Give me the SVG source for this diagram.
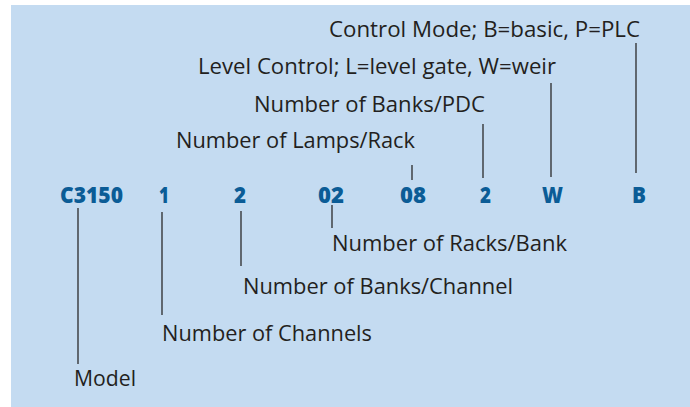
<svg xmlns="http://www.w3.org/2000/svg" width="690" height="407" viewBox="0 0 690 407">
<style>
.bg{fill:#c4dbf1}
.lbl{font-family:"Open Sans","Liberation Sans",sans-serif;font-size:21px;fill:#231f20}
.code{font-family:"Open Sans","Liberation Sans",sans-serif;font-size:22.5px;font-weight:800;fill:#0b5c96}
.ln{stroke:#2a2a2a;stroke-width:1.3;fill:none}
</style>
<rect class="bg" x="11" y="5" width="679" height="402"/>
<g id="codes">
<text class="code" x="60" y="203" textLength="63" lengthAdjust="spacingAndGlyphs">C3150</text>
<text class="code" x="159" y="203" textLength="10" lengthAdjust="spacingAndGlyphs">1</text>
<text class="code" x="234" y="203" textLength="12" lengthAdjust="spacingAndGlyphs">2</text>
<text class="code" x="318" y="203" textLength="26" lengthAdjust="spacingAndGlyphs">02</text>
<text class="code" x="400" y="203" textLength="26" lengthAdjust="spacingAndGlyphs">08</text>
<text class="code" x="480" y="203" textLength="11" lengthAdjust="spacingAndGlyphs">2</text>
<text class="code" x="542" y="203" textLength="21" lengthAdjust="spacingAndGlyphs">W</text>
<text class="code" x="632" y="203" textLength="14" lengthAdjust="spacingAndGlyphs">B</text>
</g>
<g id="connectors">
<line class="ln" x1="78" y1="208" x2="78" y2="364"/>
<line class="ln" x1="162" y1="212" x2="162" y2="315"/>
<line class="ln" x1="241" y1="211" x2="241" y2="266"/>
<line class="ln" x1="332" y1="205" x2="332" y2="228"/>
<line class="ln" x1="412" y1="165" x2="412" y2="180"/>
<line class="ln" x1="483" y1="124" x2="483" y2="178"/>
<line class="ln" x1="551" y1="83" x2="551" y2="177"/>
<line class="ln" x1="636" y1="43" x2="636" y2="173"/>
</g>
<g id="label-control-mode"><text class="lbl" x="329" y="37" textLength="311" lengthAdjust="spacingAndGlyphs">Control Mode; B=basic, P=PLC</text></g>
<g id="label-level-control"><text class="lbl" x="198" y="74" textLength="358" lengthAdjust="spacingAndGlyphs">Level Control; L=level gate, W=weir</text></g>
<g id="label-banks-pdc"><text class="lbl" x="254" y="112" textLength="231" lengthAdjust="spacingAndGlyphs">Number of Banks/PDC</text></g>
<g id="label-lamps-rack"><text class="lbl" x="176" y="148" textLength="239" lengthAdjust="spacingAndGlyphs">Number of Lamps/Rack</text></g>
<g id="label-racks-bank"><text class="lbl" x="332" y="251" textLength="235" lengthAdjust="spacingAndGlyphs">Number of Racks/Bank</text></g>
<g id="label-banks-channel"><text class="lbl" x="243" y="294" textLength="270" lengthAdjust="spacingAndGlyphs">Number of Banks/Channel</text></g>
<g id="label-channels"><text class="lbl" x="162" y="341" textLength="210" lengthAdjust="spacingAndGlyphs">Number of Channels</text></g>
<g id="label-model"><text class="lbl" x="74" y="386" textLength="62" lengthAdjust="spacingAndGlyphs">Model</text></g>
</svg>
